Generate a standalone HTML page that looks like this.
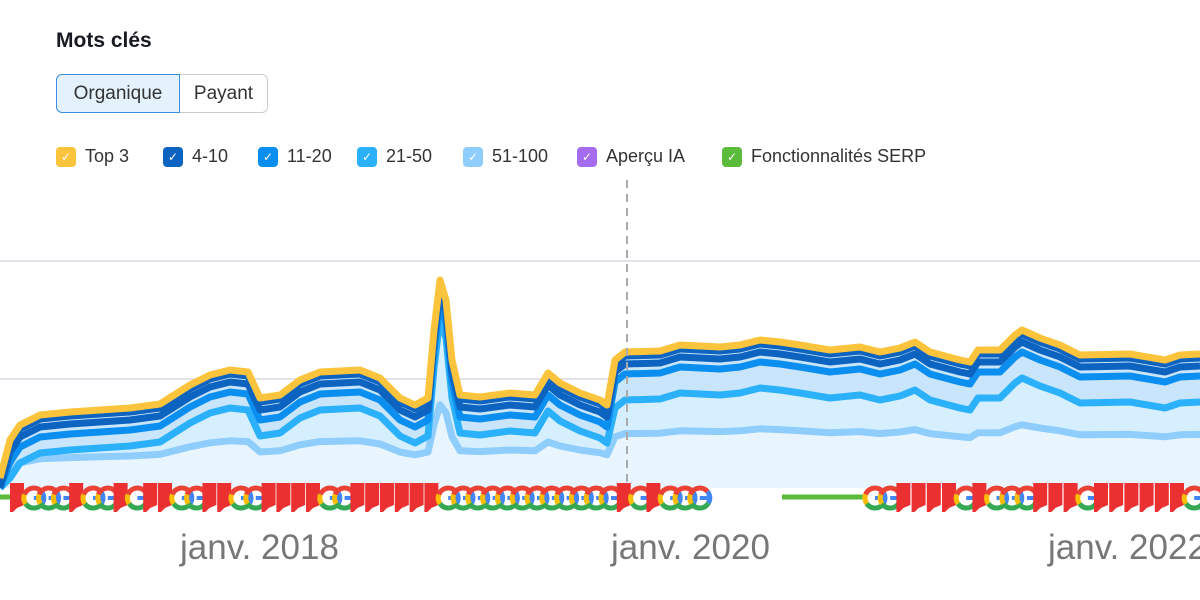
<!DOCTYPE html>
<html><head><meta charset="utf-8"><style>
body{margin:0;width:1200px;height:600px;background:#fff;font-family:"Liberation Sans",sans-serif;overflow:hidden;position:relative}
h1{position:absolute;left:56px;top:29px;margin:0;font-size:21px;font-weight:bold;color:#171a22}
.tabs{position:absolute;left:56px;top:74px;height:39px}
.tab{position:absolute;top:0;height:37px;font-size:19px;color:#333;line-height:37px;text-align:center;border:1px solid #c9ccd3;box-sizing:content-box}
.t1{left:0;width:122px;background:#e4f2fd;border-color:#3a8ee6;border-radius:6px 0 0 6px}
.t2{left:124px;width:87px;border-left:none;border-radius:0 6px 6px 0}
.leg span{position:absolute;top:146px;display:flex;align-items:center;font-size:18px;color:#333;white-space:nowrap}
.leg i{width:20px;height:20px;border-radius:4px;margin-right:9px;display:inline-flex;align-items:center;justify-content:center;color:#fff;font-style:normal;font-size:12px}
.ax{position:absolute;top:528px;font-size:35px;color:#777;white-space:nowrap}
</style></head><body>
<h1>Mots clés</h1>
<div class="tabs"><div class="tab t1">Organique</div><div class="tab t2">Payant</div></div>
<div class="leg">
<span style="left:56px"><i style="background:#fcc43c">✓</i>Top 3</span>
<span style="left:163px"><i style="background:#0d63c0">✓</i>4-10</span>
<span style="left:258px"><i style="background:#0a8ef0">✓</i>11-20</span>
<span style="left:357px"><i style="background:#2bb1fb">✓</i>21-50</span>
<span style="left:463px"><i style="background:#8fcdfd">✓</i>51-100</span>
<span style="left:577px"><i style="background:#a56cf0">✓</i>Aperçu IA</span>
<span style="left:722px"><i style="background:#5bbb3a">✓</i>Fonctionnalités SERP</span>
</div>
<svg id="s" width="1200" height="600" style="position:absolute;left:0;top:0">
<line x1="0" y1="261" x2="1200" y2="261" stroke="#e2e3ea" stroke-width="2"/>
<line x1="0" y1="379" x2="1200" y2="379" stroke="#e2e3ea" stroke-width="2"/>
<g id="g"></g>
<line x1="627" y1="180" x2="627" y2="490" stroke="#aaa" stroke-width="2" stroke-dasharray="8,6"/>
<line x1="0" y1="497" x2="12" y2="497" stroke="#5bbb3a" stroke-width="5"/>
<line x1="782" y1="497" x2="866" y2="497" stroke="#5bbb3a" stroke-width="5"/>
<g id="ic"></g>
</svg>
<div class="ax" style="left:180px">janv. 2018</div>
<div class="ax" style="left:611px">janv. 2020</div>
<div class="ax" style="left:1048px">janv. 2022</div>
<script>
(function(){
var P=[[0,478],[10,440],[20,425],[40,415],[70,412],[100,410],[130,408],[160,404],[190,385],[210,375],[230,370],[248,372],[260,398],[280,395],[300,380],[320,372],[360,370],[380,378],[400,398],[415,405],[428,398],[434,330],[440,280],[446,300],[452,360],[460,395],[480,397],[510,393],[535,395],[548,373],[560,383],[580,393],[600,400],[607,405],[615,360],[625,352],[660,351],[680,345],[720,347],[740,345],[760,340],[780,342],[800,345],[830,350],[860,347],[880,352],[900,348],[915,342],[930,352],[960,360],[970,362],[978,350],[1000,350],[1015,335],[1022,330],[1040,338],[1060,345],[1080,355],[1130,354],[1165,360],[1180,355],[1200,354]];
var B=488;
function ln(off,f){return P.map(function(p){var o=off;if(typeof off=='function')o=off(p[0]);var y=f?B-f*(B-p[1]):p[1]+o;return p[0]+','+Math.min(B,y).toFixed(1)}).join(' ');}
var g=document.getElementById('g'),ns='http://www.w3.org/2000/svg';
function add(t,a){var e=document.createElementNS(ns,t);for(var k in a)e.setAttribute(k,a[k]);return e;}
var l1=ln(0),l2=ln(12),l3=ln(22),l4=ln(function(x){return x<610?38:48;}),l5=ln(0,0.4);
g.appendChild(add('polygon',{points:'0,'+B+' '+l1+' 1200,'+B,fill:'#c8e5fb'}));
g.appendChild(add('polygon',{points:'0,'+B+' '+l4+' 1200,'+B,fill:'#d6effe'}));
g.appendChild(add('polygon',{points:'0,'+B+' '+l5+' 1200,'+B,fill:'#e9f5fe'}));
[[l5,'#8fcdfd'],[l4,'#2bb1fb'],[l3,'#0a8ef0'],[l2,'#0d63c0'],[ln(4),'#0d63c0'],[l1,'#fcc43c']].forEach(function(a){
g.appendChild(add('polyline',{points:a[0],fill:'none',stroke:a[1],'stroke-width':7,'stroke-linejoin':'round'}));});
var ic=document.getElementById('ic');
function flag(x){ic.appendChild(add('polygon',{points:x+',483 '+(x+14)+',483 '+(x+14)+',505 '+(x+7)+',508 '+(x+3)+',512 '+x+',512',fill:'#ea3030'}));}
function G(x){var cx=x+9,cy=498,r=10;
[['#ea4335',40,160],['#fbbc05',160,215],['#34a853',215,330],['#4285f4',330,400]].forEach(function(c){
var a0=c[1]*Math.PI/180,a1=c[2]*Math.PI/180;
ic.appendChild(add('path',{d:'M'+(cx+r*Math.cos(a0))+','+(cy-r*Math.sin(a0))+' A'+r+','+r+' 0 0 0 '+(cx+r*Math.cos(a1))+','+(cy-r*Math.sin(a1)),fill:'none',stroke:c[0],'stroke-width':5}));});
ic.appendChild(add('rect',{x:cx,y:cy-2,width:r+2,height:4,fill:'#4285f4'}));}
function row(x0,s,step){for(var i=0;i<s.length;i++){var x=x0+i*step;if(s[i]=='F')flag(x);else if(s[i]=='G')G(x);}}
row(10,'FGGGFGGFGFFGGFFGGFFFFGGFFFFFFGGGGGGGGGGGGFGFGGG',14.8);
row(866,'GGFFFFGFGGGFFFGFFFFFFG',15.2);
})();
</script>
</body></html>
